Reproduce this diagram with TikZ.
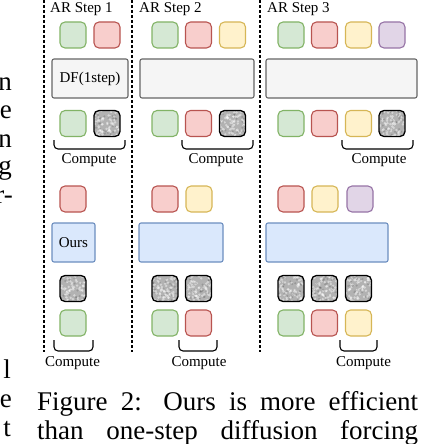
\documentclass[tikz,border=0pt]{standalone}
\usepackage{fontspec}
\setmainfont{Liberation Serif}

\definecolor{gfill}{HTML}{D5E8D4}\definecolor{gline}{HTML}{82B366}
\definecolor{rfill}{HTML}{F8CECC}\definecolor{rline}{HTML}{B85450}
\definecolor{yfill}{HTML}{FFF2CC}\definecolor{yline}{HTML}{D6B656}
\definecolor{pfill}{HTML}{E1D5E7}\definecolor{pline}{HTML}{9673A6}
\definecolor{dffill}{HTML}{F5F5F5}\definecolor{dfline}{HTML}{666666}
\definecolor{bfill}{HTML}{DAE8FC}\definecolor{bline}{HTML}{6C8EBF}

\begin{document}
\begin{tikzpicture}[x=1pt, y=1pt,
    every node/.style={font=\fontsize{15}{18}\selectfont},
    tok/.style={rectangle, rounded corners=5pt, minimum size=26pt, inner sep=0pt, line width=1.1pt},
    gtok/.style={tok, draw=gline, fill=gfill},
    rtok/.style={tok, draw=rline, fill=rfill},
    ytok/.style={tok, draw=yline, fill=yfill},
    ptok/.style={tok, draw=pline, fill=pfill},
    ntok/.style={tok, draw=black, line width=1.3pt, fill=black!30,
      path picture={
        \foreach \k in {1,...,70}{
          \pgfmathsetmacro\dx{rnd*26}\pgfmathsetmacro\dy{rnd*26}
          \fill[white, opacity=0.45] ([xshift=\dx pt, yshift=\dy pt]path picture bounding box.south west) circle (1.3pt);
        }
        \foreach \k in {1,...,30}{
          \pgfmathsetmacro\dx{rnd*26}\pgfmathsetmacro\dy{rnd*26}
          \fill[black, opacity=0.15] ([xshift=\dx pt, yshift=\dy pt]path picture bounding box.south west) circle (1.1pt);
        }}},
    dfbox/.style={rectangle, rounded corners=2pt, draw=dfline, fill=dffill, line width=1.1pt, minimum height=39pt, inner sep=0pt},
    oursbox/.style={rectangle, rounded corners=2pt, draw=bline, fill=bfill, line width=1.1pt, minimum height=39pt, inner sep=0pt},
    sep/.style={line width=1.1pt, dash pattern=on 3pt off 2pt},
    bracket/.style={line width=1.1pt, rounded corners=4pt},
    body/.style={font=\fontsize{27}{29}\selectfont, inner sep=0pt}
  ]
  \pgfmathsetseed{11}
  \useasboundingbox (0,0) rectangle (420,-444);
  \clip (0,0) rectangle (420,-444);

  % left column text and caption
  \node[body, anchor=base east] (l1) at (12,-90) {n};
  \node[body, anchor=base east] (l2) at (12,-118) {e};
  \node[body, anchor=base east] (l3) at (12,-147) {n};
  \node[body, anchor=base east] (l4) at (12,-174) {g};
  \node[body, anchor=base east] (l5) at (13,-203) {r-};
  \node[body, anchor=base east] (l6) at (11,-378) {l};
  \node[body, anchor=base east] (l7) at (12,-407) {e};
  \node[body, anchor=base east] (l8) at (11,-436) {t};
  \node[body, anchor=base west] (cap1) at (37,-410) {\makebox[381pt][s]{Figure 2: Ours is more efficient}};
  \node[body, anchor=base west] (cap2) at (37,-439) {\makebox[381pt][s]{than one-step diffusion forcing}};

  % step separators
  \draw[sep] (44,0) -- (44,-352);
  \draw[sep] (132,0) -- (132,-352);
  \draw[sep] (260,0) -- (260,-352);

  \node[anchor=west, inner sep=0pt] (s1) at (50,-9) {AR Step 1};
  \node[anchor=west, inner sep=0pt] (s2) at (139,-9) {AR Step 2};
  \node[anchor=west, inner sep=0pt] (s3) at (267,-9) {AR Step 3};

  % diffusion forcing, one step
  \node[gtok] (a11) at (73,-35) {};
  \node[rtok] (a12) at (107,-35) {};
  \node[gtok] (a21) at (165,-35) {};
  \node[rtok] (a22) at (198.5,-35) {};
  \node[ytok] (a23) at (232.5,-35) {};
  \node[gtok] (a31) at (291,-35) {};
  \node[rtok] (a32) at (324.5,-35) {};
  \node[ytok] (a33) at (358.5,-35) {};
  \node[ptok] (a34) at (392,-35) {};

  \node[dfbox, minimum width=76pt] (df1) at (90,-78.5) {DF(1step)};
  \node[dfbox, minimum width=114pt] (df2) at (197,-78.5) {};
  \node[dfbox, minimum width=151pt] (df3) at (341.5,-78.5) {};

  \node[gtok] (b11) at (73,-123.5) {};
  \node[ntok] (b12) at (107,-123.5) {};
  \node[gtok] (b21) at (165,-123.5) {};
  \node[rtok] (b22) at (198.5,-123.5) {};
  \node[ntok] (b23) at (232.5,-123.5) {};
  \node[gtok] (b31) at (291,-123.5) {};
  \node[rtok] (b32) at (324.5,-123.5) {};
  \node[ytok] (b33) at (358.5,-123.5) {};
  \node[ntok] (b34) at (392,-123.5) {};

  \draw[bracket] (54,-140) -- (54,-149) -- (125,-149) -- (125,-140);
  \draw[bracket] (182,-140) -- (182,-149) -- (253,-149) -- (253,-140);
  \draw[bracket] (342,-140) -- (342,-149) -- (413,-149) -- (413,-140);
  \node (c1) at (89,-160) {Compute};
  \node (c2) at (216,-160) {Compute};
  \node (c3) at (379,-160) {Compute};

  % ours
  \node[rtok] (d11) at (73,-199) {};
  \node[rtok] (d21) at (165,-199) {};
  \node[ytok] (d22) at (199,-199) {};
  \node[rtok] (d31) at (291,-199) {};
  \node[ytok] (d32) at (325,-199) {};
  \node[ptok] (d33) at (360,-199) {};

  \node[oursbox, minimum width=43pt] (o1) at (73.5,-242.5) {Ours};
  \node[oursbox, minimum width=84pt] (o2) at (181,-242.5) {};
  \node[oursbox, minimum width=122pt] (o3) at (327,-242.5) {};

  \node[ntok] (e11) at (73,-288.5) {};
  \node[ntok] (e21) at (165,-288.5) {};
  \node[ntok] (e22) at (198.5,-288.5) {};
  \node[ntok] (e31) at (291,-288.5) {};
  \node[ntok] (e32) at (324.5,-288.5) {};
  \node[ntok] (e33) at (358.5,-288.5) {};

  \node[gtok] (f11) at (73,-323) {};
  \node[gtok] (f21) at (165,-323) {};
  \node[rtok] (f22) at (198.5,-323) {};
  \node[gtok] (f31) at (291,-323) {};
  \node[rtok] (f32) at (324.5,-323) {};
  \node[ytok] (f33) at (358.5,-323) {};

  \draw[bracket] (54,-340) -- (54,-351) -- (93,-351) -- (93,-340);
  \draw[bracket] (179,-340) -- (179,-351) -- (217,-351) -- (217,-340);
  \draw[bracket] (340,-340) -- (340,-351) -- (377,-351) -- (377,-340);
  \node (c4) at (72.5,-363) {Compute};
  \node (c5) at (199,-363) {Compute};
  \node (c6) at (363.5,-363) {Compute};
\end{tikzpicture}
\end{document}
